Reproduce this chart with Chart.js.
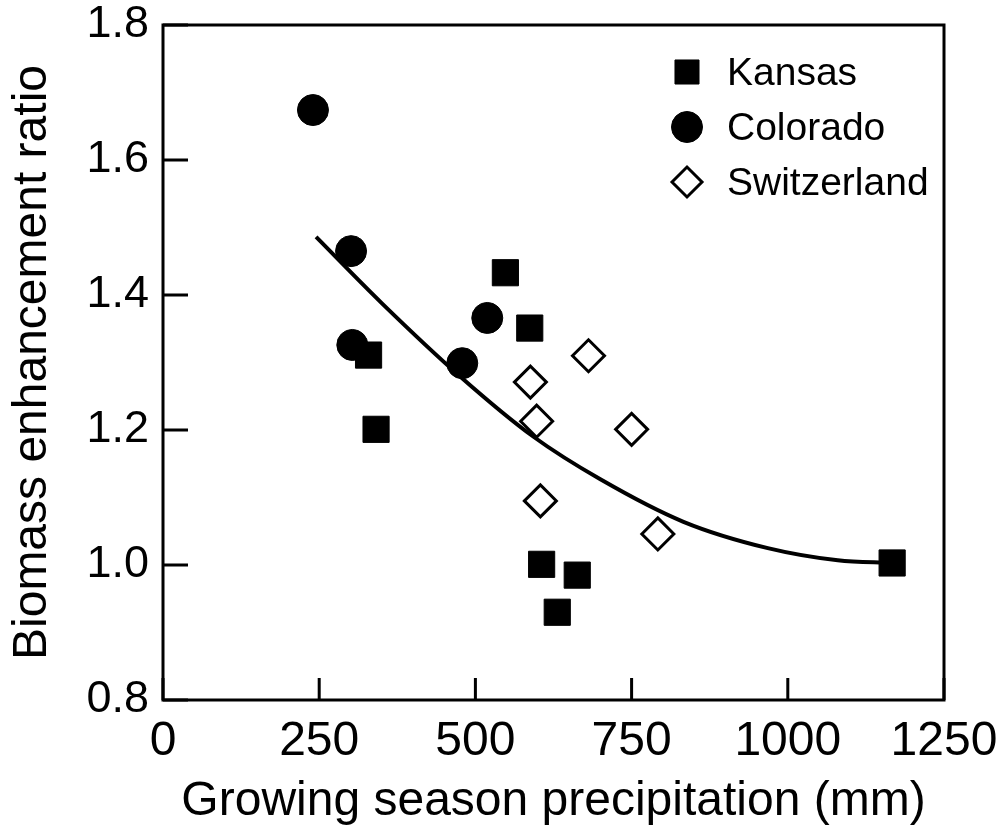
<!DOCTYPE html>
<html lang="en">
<head>
<meta charset="UTF-8">
<title>Biomass enhancement ratio</title>
<script src="https://cdn.jsdelivr.net/npm/chart.js"></script>
<style>
  body { margin: 0; background: #fff; }
  #wrap { width: 997px; height: 830px; }
</style>
</head>
<body>
<div id="wrap"><canvas id="chart" width="997" height="830"></canvas></div>
<script>
  // values
  const kansasX = [548, 587, 329, 341, 606, 663, 631, 1167];
  const kansasY = [1.433, 1.351, 1.311, 1.201, 1.001, 0.985, 0.930, 1.003];
  const coloradoX = [240, 301, 303, 519, 479];
  const coloradoY = [1.674, 1.465, 1.326, 1.366, 1.299];
  const swissX = [681, 588, 598, 750, 604, 792];
  const swissY = [1.310, 1.271, 1.213, 1.201, 1.095, 1.046];
  // fitted curve
  const curveX = [245, 350, 476, 593, 700, 833, 968, 1080, 1167];
  const curveY = [1.486, 1.388, 1.279, 1.190, 1.127, 1.064, 1.025, 1.007, 1.003];

  const xTicks = [0, 250, 500, 750, 1000, 1250];
  const yTicks = [0.8, 1.0, 1.2, 1.4, 1.6, 1.8];

  const FONT = "'Liberation Sans', Arial, Helvetica, sans-serif";

  function pts(xs, ys) {
    return xs.map((x, i) => ({ x: x, y: ys[i] }));
  }

  // frame, inward tick marks and the legend box
  const framePlugin = {
    id: 'frame',
    afterDraw(chart) {
      const ctx = chart.ctx;
      const a = chart.chartArea;
      const xs = chart.scales.x, ys = chart.scales.y;
      ctx.save();
      ctx.strokeStyle = '#000';
      ctx.lineWidth = 3;
      ctx.strokeRect(a.left, a.top, a.right - a.left, a.bottom - a.top);
      ctx.beginPath();
      xTicks.forEach(v => {
        const px = xs.getPixelForValue(v);
        ctx.moveTo(px, a.bottom);
        ctx.lineTo(px, a.bottom - 22);
      });
      yTicks.forEach(v => {
        const py = ys.getPixelForValue(v);
        ctx.moveTo(a.left, py);
        ctx.lineTo(a.left + 25, py);
      });
      ctx.stroke();

      // legend
      const lx = a.right - 257, ly = a.top + 47, gap = 55;
      ctx.font = '39px ' + FONT;
      ctx.textBaseline = 'middle';
      ctx.textAlign = 'left';
      chart.data.datasets.forEach((ds, i) => {
        if (!ds.inLegend) return;
        const y = ly + i * gap;
        ctx.fillStyle = ds.backgroundColor;
        ctx.strokeStyle = ds.borderColor;
        ctx.lineWidth = ds.borderWidth;
        Chart.helpers.drawPoint(ctx, {
          pointStyle: ds.pointStyle,
          radius: ds.legendRadius,
          borderWidth: ds.borderWidth
        }, lx, y);
        ctx.fillStyle = '#000';
        ctx.fillText(ds.label, lx + 40, y + 2);
      });
      ctx.restore();
    }
  };

  new Chart(document.getElementById('chart'), {
    type: 'scatter',
    data: {
      datasets: [
        {
          label: 'Kansas',
          data: pts(kansasX, kansasY),
          pointStyle: 'rect',
          pointRadius: 18.5,
          legendRadius: 17,
          backgroundColor: '#000',
          borderColor: '#000',
          borderWidth: 1,
          inLegend: true
        },
        {
          label: 'Colorado',
          data: pts(coloradoX, coloradoY),
          pointStyle: 'circle',
          pointRadius: 15.5,
          legendRadius: 15.5,
          backgroundColor: '#000',
          borderColor: '#000',
          borderWidth: 1,
          inLegend: true
        },
        {
          label: 'Switzerland',
          data: pts(swissX, swissY),
          pointStyle: 'rectRot',
          pointRadius: 16,
          legendRadius: 15,
          backgroundColor: '#fff',
          borderColor: '#000',
          borderWidth: 3,
          inLegend: true
        },
        {
          label: 'fit',
          type: 'line',
          data: pts(curveX, curveY),
          borderColor: '#000',
          borderWidth: 4,
          pointRadius: 0,
          fill: false,
          cubicInterpolationMode: 'monotone'
        }
      ]
    },
    options: {
      responsive: false,
      animation: false,
      layout: { padding: { top: 25, right: 53, left: 0, bottom: 0 } },
      plugins: { legend: { display: false }, tooltip: { enabled: false } },
      scales: {
        x: {
          type: 'linear',
          min: 0,
          max: 1250,
          grid: { display: false, drawTicks: false, tickLength: 0 },
          border: { display: false },
          afterBuildTicks: s => { s.ticks = xTicks.map(v => ({ value: v })); },
          afterFit: s => { s.height = 130; s.paddingLeft = 0; s.paddingRight = 0; },
          ticks: {
            padding: 18,
            color: '#000',
            maxRotation: 0,
            callback: v => String(v),
            font: { family: FONT, size: 48, lineHeight: 1 }
          },
          title: {
            display: true,
            text: 'Growing season precipitation (mm)',
            color: '#000',
            padding: { top: 0, bottom: 4 },
            font: { family: FONT, size: 48, lineHeight: 1 }
          }
        },
        y: {
          type: 'linear',
          min: 0.8,
          max: 1.8,
          grid: { display: false, drawTicks: false, tickLength: 0 },
          border: { display: false },
          afterBuildTicks: s => { s.ticks = yTicks.map(v => ({ value: v })); },
          afterFit: s => { s.width = 163; s.paddingTop = 0; s.paddingBottom = 0; },
          ticks: {
            padding: 14,
            color: '#000',
            callback: v => Number(v).toFixed(1),
            font: { family: FONT, size: 45, lineHeight: 1 }
          },
          title: {
            display: true,
            text: 'Biomass enhancement ratio',
            color: '#000',
            padding: { top: 9, bottom: 0 },
            font: { family: FONT, size: 48, lineHeight: 1 }
          }
        }
      }
    },
    plugins: [framePlugin]
  });
</script>
</body>
</html>
